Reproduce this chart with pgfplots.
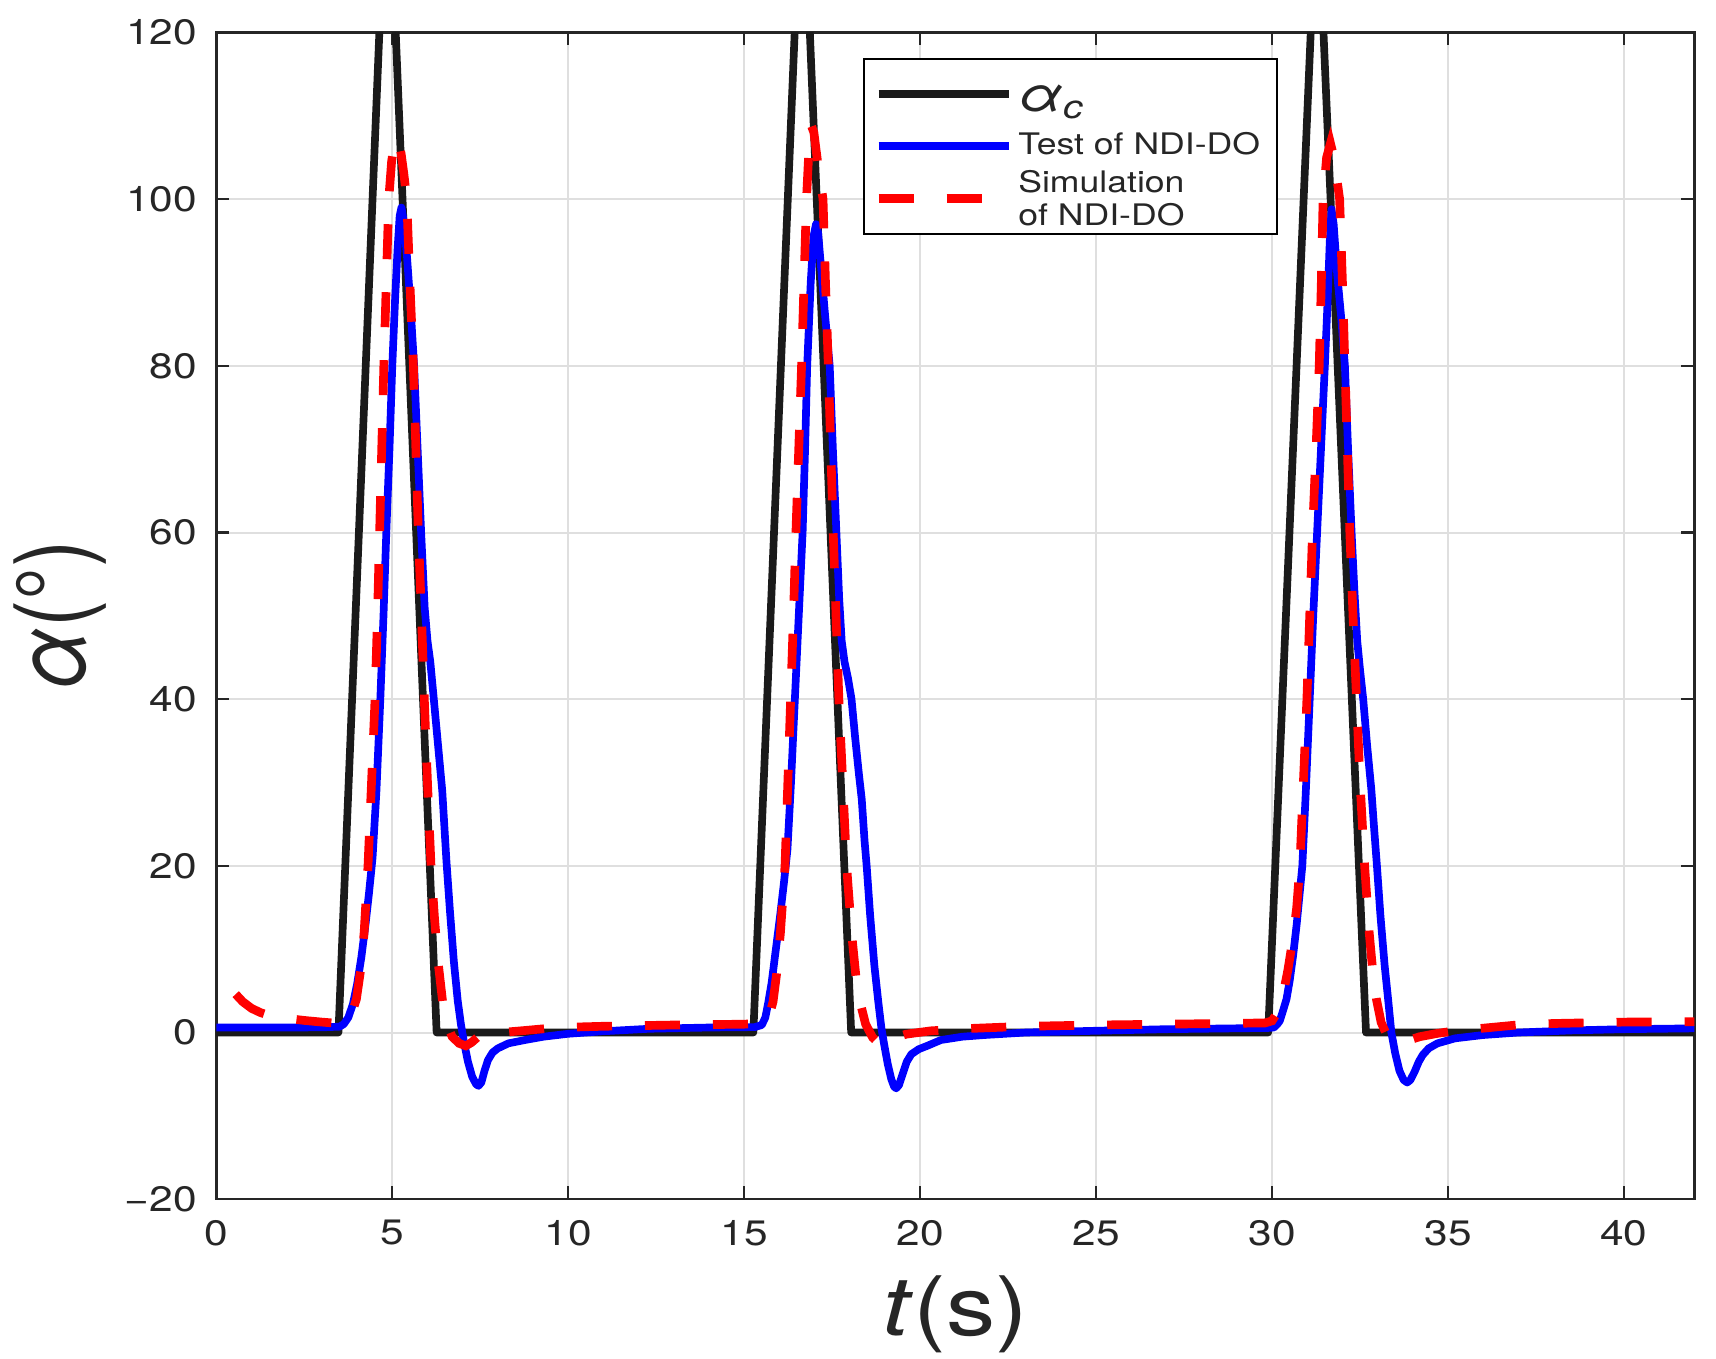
\documentclass[border=0pt]{standalone}
\usepackage{fontspec}
\setmainfont{TeX Gyre Heros}[FakeStretch=1.2]
\newfontfamily\herosplain{TeX Gyre Heros}
\usepackage{graphicx}
\usepackage{pgfplots}
\pgfplotsset{compat=1.18}

\definecolor{axgray}{RGB}{38,38,38}
\definecolor{gridgray}{RGB}{223,223,223}
\definecolor{cblack}{RGB}{26,26,26}

\pgfplotstableread{
t a
0 0
3.47 0
4.865 144
6.26 0
15.26 0
16.65 142
18.04 0
29.89 0
31.28 138
32.67 0
42 0
}\cmd

\pgfplotstableread{
t a
0 0.6
1 0.6
2 0.6
3 0.62
3.5 0.7
3.62 1.0
3.75 1.8
3.88 3.4
4.0 5.8
4.12 9.0
4.24 13.0
4.34 16.8
4.44 21
4.55 29
4.66 40
4.75 50
4.83 60
4.92 70
5.0 80
5.08 88
5.15 94
5.21 98
5.26 99
5.32 97.5
5.42 93
5.52 87
5.62 80
5.72 70
5.82 60
5.92 51
6.0 47
6.08 44.5
6.18 40
6.3 34.5
6.42 29
6.54 20.5
6.64 14.5
6.75 8.5
6.86 3.8
6.95 1.0
7.03 -1.0
7.15 -3.5
7.27 -5.3
7.38 -6.2
7.45 -6.4
7.53 -6.0
7.62 -4.6
7.72 -3.3
7.85 -2.4
8.0 -1.9
8.3 -1.3
8.77 -0.9
9.3 -0.5
10.0 -0.15
11 0.15
12.3 0.45
14 0.6
15.3 0.65
15.5 0.9
15.6 1.8
15.68 3.5
15.78 6
15.9 10
16.02 14
16.13 18
16.23 22
16.33 30
16.44 40
16.55 50
16.66 60
16.73 70
16.79 80
16.89 90
16.97 95.5
17.04 97
17.1 96
17.2 91
17.3 86
17.43 80
17.52 70
17.62 60
17.7 52
17.77 47
17.85 44.5
17.95 42.5
18.05 40
18.15 35.5
18.26 31
18.34 28
18.42 23
18.48 20
18.58 14
18.7 8
18.81 3.7
18.9 0.5
18.98 -1.5
19.08 -3.8
19.18 -5.6
19.26 -6.5
19.32 -6.7
19.4 -6.3
19.5 -5.0
19.62 -3.5
19.75 -2.6
19.96 -2.0
20.2 -1.6
20.59 -0.9
21.2 -0.5
21.83 -0.3
23 0.0
24.9 0.2
27 0.4
29.9 0.55
30.05 0.6
30.15 1.0
30.22 1.4
30.31 2.6
30.41 4.0
30.5 6.2
30.6 9.3
30.7 13
30.78 16.5
30.86 20
30.96 29
31.07 40
31.17 50
31.28 60
31.39 70
31.5 80
31.58 88
31.64 95
31.69 98.8
31.75 97
31.85 91
31.96 86
32.07 80
32.16 70
32.26 60
32.34 53
32.42 47
32.5 43.5
32.59 40
32.7 34.5
32.82 29.2
32.9 24.5
32.98 20
33.08 14
33.2 8
33.3 3.9
33.39 0
33.5 -2.5
33.62 -4.6
33.74 -5.7
33.84 -6.0
33.93 -5.7
34.05 -4.7
34.17 -3.5
34.28 -2.7
34.45 -1.9
34.7 -1.3
35.2 -0.7
36 -0.3
37 0
38.5 0.25
40 0.4
42 0.5
}\test

\pgfplotstableread{
t a
0.55 4.6
0.75 3.7
1.0 2.9
1.25 2.4
1.5 2.05
2.0 1.7
2.5 1.45
3.0 1.25
3.45 1.1
3.7 1.3
3.85 2.3
3.98 4.0
4.1 7.5
4.2 12
4.31 20
4.41 30
4.51 40
4.58 50
4.64 60
4.7 70
4.76 80
4.83 90
4.9 100
4.98 104.5
5.07 107
5.16 107.3
5.25 105.5
5.33 103
5.41 100
5.5 90
5.6 80
5.67 70
5.74 60
5.83 50
5.91 40
6.0 30
6.1 20
6.2 13.7
6.3 8.5
6.43 3.7
6.53 1.3
6.7 -0.5
6.9 -1.3
7.09 -1.6
7.25 -1.2
7.44 -0.5
7.8 -0.1
8.65 0.2
9.7 0.6
11 0.75
13 0.9
15 1.0
15.5 1.1
15.65 1.5
15.75 2.6
15.82 3.7
15.92 7
16.03 12
16.16 20
16.24 30
16.32 40
16.4 50
16.47 60
16.55 70
16.63 80
16.7 90
16.77 100
16.84 106
16.91 108.8
16.98 108
17.1 104
17.24 100
17.31 90
17.39 80
17.46 70
17.53 60
17.61 50
17.69 40
17.8 30
17.91 20
18.05 12
18.18 6.5
18.29 3.7
18.45 1
18.65 -0.6
18.85 -1.4
18.95 -1.5
19.1 -1.2
19.3 -0.6
19.6 -0.2
20.3 0.2
21.5 0.5
23 0.75
25 0.9
27 1.0
29.8 1.15
30.0 1.4
30.12 2.2
30.2 3.0
30.31 4.5
30.45 7.5
30.6 11.5
30.7 15
30.79 20
30.89 30
30.99 40
31.07 50
31.15 60
31.25 70
31.34 80
31.4 90
31.45 100
31.55 105
31.66 106.7
31.76 105
31.92 100
32.0 90
32.07 80
32.14 70
32.21 60
32.3 50
32.4 40
32.5 30
32.63 20
32.76 12
32.88 6.5
32.97 3.9
33.1 1.2
33.25 -0.2
33.45 -0.9
33.68 -1.2
33.9 -0.9
34.2 -0.5
34.7 -0.1
35.2 0.2
36.2 0.6
37.2 1.0
38.2 1.1
40 1.25
42 1.3
}\sim

\begin{document}
\begin{tikzpicture}
\begin{axis}[
  width=443.4pt, height=350pt, scale only axis,
  xmin=0, xmax=42, ymin=-20, ymax=120,
  xtick={0,5,...,40}, ytick={-20,0,...,120},
  xticklabels={0,5,10,15,20,25,30,35,40},
  yticklabels={−20,0,20,40,60,80,100,120},
  tick align=inside, tick pos=both,
  major tick length=3.9pt,
  every tick/.style={axgray, line width=0.7pt},
  axis line style={axgray, line width=0.7pt},
  grid=major, major grid style={gridgray, line width=0.6pt},
  tick label style={font=\fontsize{10.6}{12}\selectfont, text=axgray},
  xticklabel style={yshift=-2.8pt},
  yticklabel style={xshift=-2.3pt},
  legend cell align=left,
  legend image code/.code={\draw[#1] (0pt,0pt) -- (39pt,0pt);},
  legend style={at={(0.4373,0.9781)}, anchor=north west, draw=black,
    line width=0.6pt, fill=white, text=axgray,
    font=\fontsize{8.9}{10}\selectfont, cells={align=left, inner sep=0pt},
    inner xsep=3.2pt, inner ysep=1.8pt, row sep=0.7pt, column sep=-0.4pt},
]
\addplot[cblack, line width=2.3pt, line join=round] table[x=t,y=a] {\cmd};
\addlegendentry{\rule[-3.6pt]{0pt}{15.6pt}{\fontsize{14.5}{15}\selectfont\itshape α}\raisebox{-0.45ex}{\fontsize{9.8}{10}\selectfont\itshape c}}
\addplot[blue, line width=2.3pt, line join=round] table[x=t,y=a] {\test};
\addlegendentry{Test of NDI-DO}
\addplot[red, line width=2.6pt, dash pattern=on 10.5pt off 9.9pt] table[x=t,y=a] {\sim};
\addlegendentry{\rule[-6.0pt]{0pt}{18.4pt}\smash{\raisebox{2.1pt}{\begin{tabular}[c]{@{}l@{}}Simulation\\of NDI-DO\end{tabular}}}}
\end{axis}
\node[anchor=base, inner sep=0pt, text=axgray, font=\fontsize{24.6}{26}\selectfont] at ([yshift=-40.9pt]current axis.south) {\textit{t}(s)};
\node[rotate=90, anchor=base, inner sep=0pt, text=axgray] at ([xshift=-39.2pt]current axis.west) {\scalebox{1}[1.2]{\herosplain\fontsize{24.6}{26}\selectfont\textit{α}(°)}};
\pgfresetboundingbox
\path[use as bounding box] ([xshift=-64.9pt,yshift=-47.7pt]current axis.south west) rectangle ([xshift=6.5pt,yshift=9.75pt]current axis.north east);
\end{tikzpicture}
\end{document}
